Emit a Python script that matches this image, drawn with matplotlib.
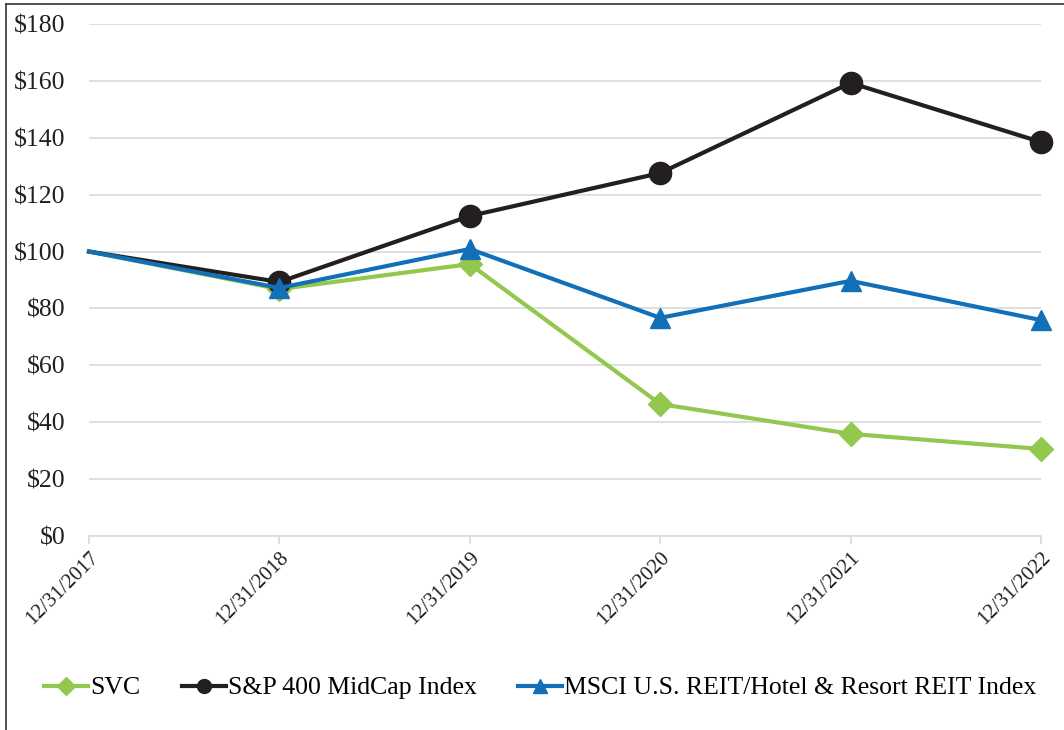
import matplotlib.pyplot as plt
from matplotlib.lines import Line2D

dates = ["12/31/2017", "12/31/2018", "12/31/2019", "12/31/2020", "12/31/2021", "12/31/2022"]
svc = [100, 86.8, 95.6, 46.4, 35.9, 30.6]
sp400 = [100, 89.3, 112.5, 127.6, 159.3, 138.5]
msci = [100, 87.2, 100.9, 76.7, 89.7, 75.9]
yticks = [0, 20, 40, 60, 80, 100, 120, 140, 160, 180]

GREEN = "#92C84E"
BLACK = "#231F20"
BLUE = "#1170B8"

plt.rcParams['font.family'] = ['Liberation Serif', 'DejaVu Serif']

fig = plt.figure(figsize=(10.64, 7.3), dpi=100)
ax = fig.add_axes([89/1064, 1-536/730, (1041-89)/1064, (536-24)/730])

x = list(range(len(dates)))
# first point has no marker
ax.plot(x, svc, color=GREEN, lw=3, marker="D", ms=12, markevery=list(range(1, 6)), zorder=3, clip_on=False)
ax.plot(x, sp400, color=BLACK, lw=3, marker="o", ms=16, markevery=list(range(1, 6)), zorder=4, clip_on=False)
ax.plot(x, msci, color=BLUE, lw=3, marker="^", ms=15, markevery=list(range(1, 6)), zorder=5, clip_on=False)

ax.set_xlim(0, 5)
ax.set_ylim(0, 180)
ax.set_yticks(yticks)
ax.set_yticklabels(["$%d" % v for v in yticks], fontsize=18.5, color=BLACK)
ax.set_xticks(x)
ax.set_xticklabels(dates, rotation=45, ha="right", rotation_mode="anchor", fontsize=15, color=BLACK)
ax.tick_params(axis="y", length=0, pad=17)
ax.tick_params(axis="x", length=6, color="#d9d9d9", width=1.2, pad=3)
ax.grid(axis="y", color="#d9d9d9", lw=1.2)
ax.set_axisbelow(True)
for s in ["top", "right", "left"]:
    ax.spines[s].set_visible(False)
ax.spines["bottom"].set_color("#d9d9d9")
ax.spines["bottom"].set_linewidth(1.2)

handles = [
    Line2D([], [], color=GREEN, lw=3, marker="D", ms=9),
    Line2D([], [], color=BLACK, lw=3, marker="o", ms=10),
    Line2D([], [], color=BLUE, lw=3, marker="^", ms=10),
]
labels = ["SVC", "S&P 400 MidCap Index", "MSCI U.S. REIT/Hotel & Resort REIT Index"]
fig.legend(handles, labels, loc="center", bbox_to_anchor=(0.508, 1-688/730), ncol=3,
           frameon=False, fontsize=18.5, handlelength=1.7, handletextpad=0.1, columnspacing=1.6)

# outer frame (left and top edges visible)
fig.add_artist(Line2D([6/1064, 6/1064], [0, 1-4/730], color="#333333", lw=1.2, transform=fig.transFigure))
fig.add_artist(Line2D([6/1064, 1], [1-4/730, 1-4/730], color="#333333", lw=1.2, transform=fig.transFigure))

fig.savefig("out.png", dpi=100)
